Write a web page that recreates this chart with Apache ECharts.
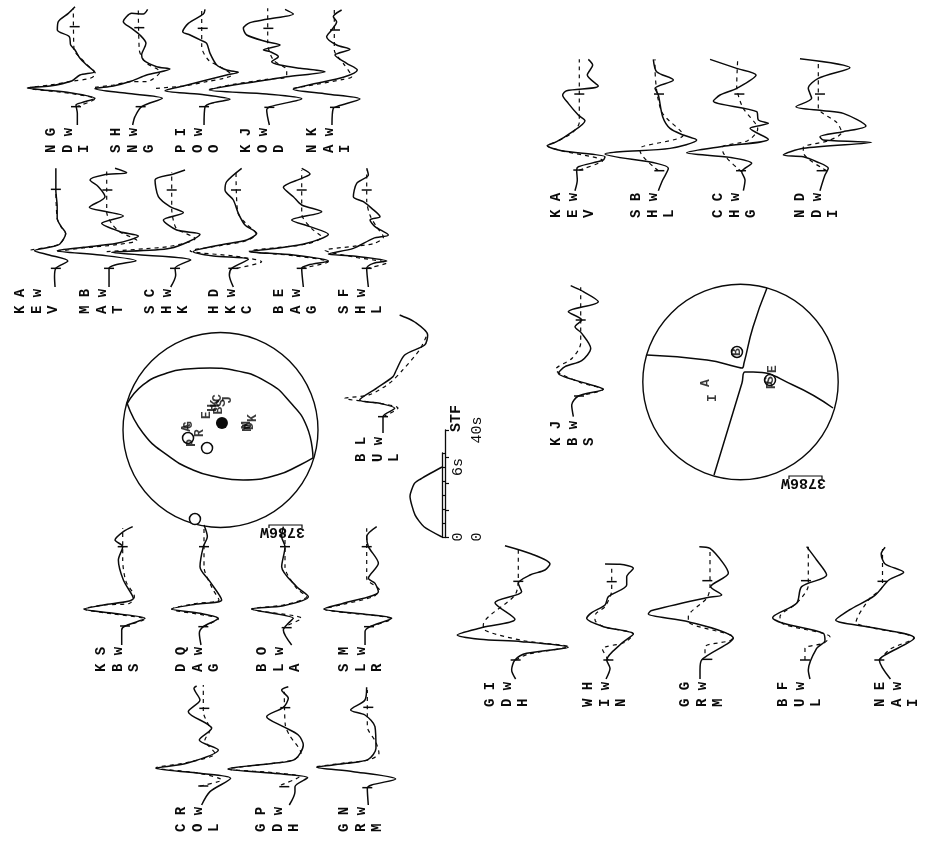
<!DOCTYPE html>
<html>
<head>
<meta charset="utf-8">
<style>html,body{margin:0;padding:0;background:#fff}#chart{width:938px;height:842px}</style>
<script src="https://cdn.jsdelivr.net/npm/echarts@6/dist/echarts.min.js"></script>
</head>
<body>
<div id="chart"></div>
<script>
// waveforms: [amplitude, time], one third of a pixel per unit
const ndiObs = [[10,0],[10,35],[6,60],[23,67],[63,80],[-12,97],[-92,105],[-140,111],[-72,117],[-7,132],[18,150],[61,160],[38,180],[18,200],[3,225],[-10,240],[-14,265],[-50,285],[-47,310],[-17,335],[3,355]];
const ndiSyn = [[6,55],[63,78],[-12,95],[-138,111],[-72,120],[-2,132],[48,140],[65,153],[40,180],[18,203],[0,225],[-2,350]];
const ndiTicks = [[6,55],[2,295]];
const sngObs = [[-17,0],[-10,25],[10,55],[72,80],[-35,95],[-130,109],[-75,117],[-20,132],[25,150],[95,168],[55,175],[15,195],[10,210],[23,245],[5,270],[-20,290],[-45,310],[-20,335],[15,333],[28,347]];
const sngSyn = [[-130,113],[-75,120],[-20,130],[25,130],[65,160],[25,185],[10,205],[3,225],[0,350]];
const sngTicks = [[7,55],[3,292]];
const pooObs = [[7,0],[10,55],[35,67],[85,77],[-5,92],[-110,103],[-55,117],[15,135],[75,150],[110,158],[75,165],[45,180],[25,215],[15,245],[0,253],[-35,270],[-57,280],[-40,305],[5,333],[10,347]];
const pooSyn = [[-137,110],[-55,117],[15,130],[65,140],[90,150],[55,175],[20,195],[0,235],[0,345]];
const pooTicks = [[7,55],[3,290]];
const kodObs = [[5,0],[-3,45],[7,55],[102,79],[-3,93],[-175,105],[-103,120],[-3,135],[57,145],[172,160],[97,170],[37,180],[12,190],[32,205],[7,220],[-13,225],[37,240],[-3,250],[-63,270],[-73,290],[-53,307],[-3,317],[77,333],[52,347]];
const kodSyn = [[-175,107],[-103,122],[-3,137],[57,145],[57,165],[17,195],[0,245],[0,350]];
const kodTicks = [[5,53],[2,290]];
const naiObs = [[-7,0],[-3,50],[12,57],[77,78],[-23,93],[-123,107],[-53,125],[27,143],[69,165],[37,185],[2,210],[47,227],[7,240],[-23,265],[-8,285],[7,310],[-3,325],[22,345]];
const naiSyn = [[-123,110],[-53,122],[27,137],[52,145],[27,185],[0,225],[0,345]];
const naiTicks = [[2,53],[2,285]];

const kevObs = [[-3,0],[-5,31],[0,56],[45,78],[-25,96],[-80,109],[-25,119],[15,129],[37,161],[20,181],[5,206],[5,241],[0,291],[0,356]];
const kevSyn = [[-95,111],[-25,120],[15,130],[37,160],[20,180],[5,206],[0,290]];
const kevTicks = [[0,56],[0,293]];
const matObs = [[7,0],[7,56],[25,66],[88,79],[-20,96],[-148,109],[-70,119],[30,131],[95,153],[40,166],[-15,191],[50,213],[0,226],[-52,239],[-5,271],[-25,301],[-50,321],[-10,336],[60,343],[25,356]];
const matSyn = [[-148,107],[-70,117],[30,127],[90,140],[40,165],[15,190],[0,225],[0,355]];
const matTicks = [[7,56],[2,291]];
const shkObs = [[-3,0],[12,36],[10,56],[57,81],[-180,104],[-5,116],[85,158],[15,171],[-25,201],[35,223],[-5,241],[-40,271],[-50,321],[5,339],[40,351]];
const shkSyn = [[-195,106],[-80,115],[-5,122],[70,145],[15,175],[5,200],[0,235],[0,345]];
const shkTicks = [[10,56],[0,291]];
const hkcObs = [[-8,0],[-20,36],[-13,56],[37,83],[-68,93],[-128,106],[-48,126],[32,141],[62,161],[27,186],[7,221],[-8,261],[-33,291],[-28,316],[17,356]];
const hkcSyn = [[2,56],[77,76],[0,92],[-138,108],[-48,124],[32,139],[60,160],[30,190],[5,225],[0,350]];
const hkcTicks = [[-8,56],[0,291]];
const bagObs = [[5,0],[0,56],[20,66],[80,78],[-25,96],[-157,106],[-75,116],[15,131],[80,158],[25,181],[-30,201],[60,226],[0,246],[-25,271],[-55,299],[0,326],[25,339],[0,356]];
const bagSyn = [[0,56],[80,76],[-25,94],[-157,108],[-75,118],[15,129],[60,150],[30,175],[0,220],[0,350]];
const bagTicks = [[0,56],[0,291]];
const shlObs = [[5,0],[0,56],[20,71],[60,78],[-40,93],[-115,99],[-40,116],[20,146],[65,156],[25,181],[10,201],[40,211],[15,236],[-10,256],[-40,271],[-30,311],[5,336],[0,356]];
const shlSyn = [[0,56],[60,72],[-40,90],[-125,110],[-40,122],[20,130],[50,150],[30,180],[10,215],[0,260],[0,350]];
const shlTicks = [[0,56],[0,291]];

const kev2Obs = [[-13,0],[-6,32],[-8,62],[-3,72],[72,92],[77,102],[-53,120],[-96,135],[-68,147],[-28,172],[17,210],[-3,227],[-33,262],[-50,287],[-38,300],[57,314],[24,347],[40,377],[27,394]];
const kev2Syn = [[0,62],[70,90],[-53,120],[-96,135],[-68,147],[-20,175],[0,205],[0,394]];
const kev2Ticks = [[-3,62],[0,290]];
const shl2Obs = [[10,0],[23,32],[40,67],[5,82],[-150,110],[-105,117],[45,127],[125,152],[85,167],[45,187],[23,222],[10,287],[0,307],[55,332],[5,357],[-5,394]];
const shl2Syn = [[10,60],[-45,120],[-45,127],[85,167],[20,237],[0,372],[0,394]];
const shl2Ticks = [[13,60],[12,290]];
const chgObs = [[17,0],[22,32],[12,57],[42,82],[-23,100],[-153,114],[-38,134],[92,154],[37,187],[92,202],[62,212],[57,237],[-73,269],[-53,287],[-3,307],[55,347],[-3,367],[-83,394]];
const chgSyn = [[12,57],[-45,120],[-45,132],[30,150],[60,185],[15,250],[-3,315],[0,394]];
const chgTicks = [[10,60],[5,290]];
const ndi2Obs = [[5,0],[20,47],[30,67],[-5,87],[-45,102],[-105,107],[-45,127],[160,145],[15,152],[5,162],[75,177],[143,194],[75,232],[15,240],[-67,252],[-20,277],[-30,307],[0,337],[95,369],[-55,396]];
const ndi2Syn = [[25,60],[-45,115],[-45,130],[30,150],[70,175],[55,205],[0,250],[0,390]];
const ndi2Ticks = [[10,60],[5,290]];

const bbsObs = [[-3,0],[-3,45],[7,57],[67,80],[-28,95],[-116,108],[-58,120],[32,140],[2,195],[-13,255],[0,295],[-23,315],[2,340],[30,355]];
const bbsSyn = [[7,57],[67,78],[-28,93],[-116,108],[-58,120],[20,125],[35,145],[10,190],[0,255],[0,350]];
const bbsTicks = [[7,57],[0,295]];
const dagObs = [[-9,0],[-14,35],[-2,55],[43,80],[-12,95],[-97,108],[-22,123],[53,135],[18,190],[-12,235],[-2,295],[10,325],[0,360]];
const dagSyn = [[-2,55],[43,78],[-97,108],[-22,125],[45,135],[25,170],[0,235],[0,360]];
const dagTicks = [[-2,55],[0,295]];
const blaObs = [[20,0],[-5,45],[10,65],[25,80],[-100,108],[-5,118],[70,145],[35,175],[-10,235],[0,295],[-10,325],[-5,355]];
const blaSyn = [[10,60],[50,80],[-100,108],[-5,120],[65,145],[35,170],[0,235],[0,350]];
const blaTicks = [[5,52],[0,295]];
const slrObs = [[-5,0],[-5,40],[10,55],[75,80],[-10,93],[-128,108],[-70,125],[35,160],[25,185],[5,200],[35,245],[5,295],[0,325],[30,355]];
const slrSyn = [[10,55],[75,78],[-128,108],[-70,122],[20,145],[38,165],[0,200],[0,350]];
const slrTicks = [[7,55],[0,295]];

const colObs = [[-5,0],[20,40],[82,80],[-10,95],[-142,110],[-50,125],[45,165],[-12,195],[25,230],[-45,280],[-10,315],[-28,350],[-20,357]];
const colSyn = [[-10,57],[55,75],[-10,95],[-142,112],[-50,127],[35,155],[5,195],[20,225],[0,280],[0,360]];
const colTicks = [[0,57],[3,290]];
const gdhObs = [[15,0],[32,40],[32,55],[70,82],[-33,95],[-169,108],[-33,125],[32,137],[57,180],[42,210],[-3,235],[-53,265],[-3,293],[12,320],[-8,345],[12,355]];
const gdhSyn = [[-10,60],[45,85],[-33,97],[-169,108],[-33,125],[25,135],[50,155],[15,210],[3,240],[0,340]];
const gdhTicks = [[0,55],[3,292]];
const grmObs = [[3,0],[0,50],[13,60],[85,78],[-42,100],[-152,113],[-62,125],[3,137],[26,170],[23,235],[-7,270],[-50,285],[-7,315],[-2,353]];
const grmSyn = [[-152,115],[-62,127],[3,135],[35,155],[25,190],[0,235],[0,345]];
const grmTicks = [[0,52],[3,293]];

const gdh2Obs = [[-8,0],[-20,27],[-10,57],[25,77],[150,95],[10,112],[-115,119],[-183,132],[-105,155],[-10,179],[-70,229],[10,262],[0,287],[35,312],[80,327],[95,345],[40,375],[-40,400]];
const gdh2Syn = [[-8,57],[30,75],[150,97],[15,115],[-105,152],[-105,162],[-10,252],[0,300],[0,400]];
const gdh2Ticks = [[-8,57],[0,293]];
const winObs = [[-17,0],[-5,32],[-15,57],[30,107],[65,135],[-25,157],[-75,182],[-60,199],[-20,222],[-10,247],[45,282],[45,307],[65,332],[25,344],[-20,345]];
const winSyn = [[-10,57],[-28,90],[40,110],[65,135],[-25,157],[-50,177],[-48,195],[-20,217],[0,267],[0,340]];
const winTicks = [[-10,57],[0,292]];
const grm2Obs = [[-33,0],[-33,27],[-28,57],[67,122],[-68,172],[-188,195],[-180,205],[-13,244],[32,252],[-1,277],[52,317],[37,347],[-3,392],[-35,397]];
const grm2Syn = [[-18,77],[-18,97],[57,115],[67,125],[-68,172],[-68,187],[-13,242],[-3,277],[-3,387]];
const grm2Ticks = [[-11,59],[-11,295]];
const bulObs = [[5,0],[0,27],[25,92],[50,115],[45,137],[-75,167],[-107,184],[-35,227],[-20,277],[55,312],[25,357],[-5,397]];
const bulSyn = [[-10,57],[-10,92],[45,107],[65,127],[45,137],[-75,165],[-85,187],[-35,227],[0,282],[0,397]];
const bulTicks = [[-10,57],[-7,295]];
const nai2Obs = [[30,0],[-12,57],[9,72],[120,123],[-51,156],[-177,177],[-126,207],[-30,250],[24,297],[80,320],[10,345],[-5,375],[10,395]];
const nai2Syn = [[-12,57],[30,90],[120,123],[-51,156],[-100,170],[-50,240],[0,280],[0,390]];
const nai2Ticks = [[-12,57],[0,293]];

const bulTopObs = [[0,0],[0,49],[35,74],[-10,89],[-70,99],[-20,134],[30,169],[40,189],[65,234],[125,264],[134,294],[95,333],[50,354]];
const bulTopSyn = [[0,49],[45,75],[-10,89],[-115,104],[-40,115],[20,150],[60,190],[110,250],[130,290]];
const bulTopTicks = [[0,49]];
const bbs2Obs = [[-22,4],[-27,39],[-7,66],[68,86],[-2,109],[-67,134],[-47,154],[3,172],[30,209],[3,254],[-17,274],[3,294],[-37,319],[53,349],[8,379],[-30,397]];
const bbs2Syn = [[-7,66],[68,86],[-2,107],[-75,146],[-25,180],[0,225],[0,395]];
const bbs2Ticks = [[-5,66],[0,294]];

// source time function, seconds and relative amplitude
const stfCurve = [[0,0],[18,0.88],[27,1.9],[32,3.5],[28,4.54],[23,4.89],[0,6]];

// focal spheres, unit radius
const ballOneUpper = [[-0.959,0.267],[-0.795,0.462],[-0.549,0.585],[-0.344,0.626],[-0.108,0.636],[0.128,0.615],[0.477,0.492],[0.713,0.287],[0.887,0.031],[0.949,-0.287]];
const ballOneLower = [[-0.959,0.277],[-0.795,-0.031],[-0.549,-0.256],[-0.282,-0.41],[-0.036,-0.482],[0.231,-0.513],[0.579,-0.462],[0.815,-0.359],[0.949,-0.287]];
const ballOneFilled = [[0.015,0.072]];
const ballOneOpen = [[-0.138,-0.185],[-0.333,-0.082],[-0.262,-0.913]];
const ballOneLabels = [[-0.138,0.154,'E'],[-0.026,0.328,'C'],[-0.077,0.226,'H'],[-0.05,0.27,'K'],[0.015,0.277,'S'],[0.077,0.308,'J'],[-0.02,0.2,'B'],[0.282,0.021,'N'],[0.333,0.123,'K'],[0.272,0.051,'M'],[0.3,0.04,'D'],[-0.292,-0.133,'P'],[-0.21,-0.031,'R'],[-0.344,0.021,'A'],[-0.33,0.05,'G']];
const ballTwoFirst = [[0.271,0.962],[0.128,0.563],[0.036,0.194],[0.015,0.143],[-0.036,0.154],[-0.343,0.225],[-0.957,0.276]];
const ballTwoSecond = [[0.947,-0.266],[0.537,-0.031],[0.128,0.102],[0.046,0.102],[0.015,-0.01],[-0.271,-0.952]];
const ballTwoOpen = [[-0.036,0.307],[0.302,0.02]];
const ballTwoLabels = [[-0.036,0.307,'B'],[0.333,0.133,'E'],[0.322,-0.031,'P'],[0.302,0.02,'S'],[-0.353,-0.01,'A'],[-0.281,-0.164,'I']];

const UNIT = 3;
const HALF = 210;
const INK = '#0a0a0a';
const MONO = '"Liberation Mono", "DejaVu Sans Mono", monospace';

// label, label left, label bottom, trace x, trace foot y, observed, synthetic, window ticks
const panels = [
  ['N G\nD w\nI', 43, 153, 74, 125, ndiObs, ndiSyn, ndiTicks],
  ['S H\nN w\nG', 108, 153, 138.3, 125, sngObs, sngSyn, sngTicks],
  ['P I\nO w\nO', 173, 153, 201.7, 125, pooObs, pooSyn, pooTicks],
  ['K J\nO w\nD', 238, 153, 267.7, 125, kodObs, kodSyn, kodTicks],
  ['N K\nA w\nI', 304, 153, 334.3, 125, naiObs, naiSyn, naiTicks],
  ['K A\nE w\nV', 12, 314, 41.7, 287, kevObs, kevSyn, kevTicks],
  ['M B\nA w\nT', 77, 314, 106.7, 287, matObs, matSyn, matTicks],
  ['S C\nH w\nK', 142, 314, 171.7, 287, shkObs, shkSyn, shkTicks],
  ['H D\nK w\nC', 206, 314, 236, 287, hkcObs, hkcSyn, hkcTicks],
  ['B E\nA w\nG', 271, 314, 301.7, 287, bagObs, bagSyn, bagTicks],
  ['S F\nH w\nL', 336, 314, 366.7, 287, shlObs, shlSyn, shlTicks],
  ['K A\nE w\nV', 548, 218, 579.3, 190.7, kev2Obs, kev2Syn, kev2Ticks],
  ['S B\nH w\nL', 628, 218, 655, 190.7, shl2Obs, shl2Syn, shl2Ticks],
  ['C C\nH w\nG', 710, 218, 737.7, 190.7, chgObs, chgSyn, chgTicks],
  ['N D\nD w\nI', 792, 218, 818.3, 190.7, ndi2Obs, ndi2Syn, ndi2Ticks],
  ['K S\nB w\nS', 93, 672, 122.7, 645, bbsObs, bbsSyn, bbsTicks],
  ['D Q\nA w\nG', 173, 672, 204, 645, dagObs, dagSyn, dagTicks],
  ['B O\nL w\nA', 254, 672, 285, 645, blaObs, blaSyn, blaTicks],
  ['S M\nL w\nR', 336, 672, 366.7, 645, slrObs, slrSyn, slrTicks],
  ['C R\nO w\nL', 173, 832, 203.3, 805, colObs, colSyn, colTicks],
  ['G P\nD w\nH', 253, 832, 284.3, 805, gdhObs, gdhSyn, gdhTicks],
  ['G N\nR w\nM', 336, 832, 367.3, 805, grmObs, grmSyn, grmTicks],
  ['G I\nD w\nH', 482, 707, 518.3, 679, gdh2Obs, gdh2Syn, gdh2Ticks],
  ['W H\nI w\nN', 580, 707, 611.7, 679, winObs, winSyn, winTicks],
  ['G G\nR w\nM', 677, 707, 711, 679, grm2Obs, grm2Syn, grm2Ticks],
  ['B F\nU w\nL', 775, 707, 808.3, 679, bulObs, bulSyn, bulTicks],
  ['N E\nA w\nI', 872, 707, 897, 679, nai2Obs, nai2Syn, nai2Ticks],
  ['B L\nU w\nL', 353, 462, 383, 433, bulTopObs, bulTopSyn, bulTopTicks],
  ['K J\nB w\nS', 548, 446, 580.7, 418, bbs2Obs, bbs2Syn, bbs2Ticks]
];

const chart = echarts.init(document.getElementById('chart'), null, { renderer: 'canvas' });
const grid = [], xAxis = [], yAxis = [], series = [], graphic = [];

const hiddenAxis = (min, max) => ({ type: 'value', min, max, show: false, scale: false });

const addGrid = (left, top, width, height, xa, ya) => {
  grid.push({ left, top, width, height });
  xAxis.push({ ...xa, gridIndex: grid.length - 1 });
  yAxis.push({ ...ya, gridIndex: grid.length - 1 });
  return grid.length - 1;
};

const addText = (text, x, y, rotation, size) => {
  graphic.push({
    type: 'text', x, y, rotation, silent: true,
    style: { text, fill: INK, font: 'bold ' + (size || 14) + 'px ' + MONO, lineHeight: 16.7, textAlign: 'left', textVerticalAlign: 'top' }
  });
};

const lineSeries = (idx, data, dashed, smooth) => ({
  type: 'line', xAxisIndex: idx, yAxisIndex: idx, data, symbol: 'none', clip: false, silent: true,
  smooth: smooth === undefined ? 0.28 : smooth,
  lineStyle: { color: INK, width: dashed ? 1.2 : 1.5, type: dashed ? [4, 4] : 'solid' }
});

panels.forEach(([label, lx, ly, px, py, obs, syn, ticks]) => {
  const tMax = Math.max(...obs.concat(syn).map((p) => p[1]));
  const idx = addGrid(px - HALF / UNIT, py - tMax / UNIT, (2 * HALF) / UNIT, tMax / UNIT, hiddenAxis(-HALF, HALF), hiddenAxis(0, tMax));
  series.push(lineSeries(idx, syn, true));
  series.push(lineSeries(idx, obs, false));
  series.push({
    type: 'scatter', xAxisIndex: idx, yAxisIndex: idx, data: ticks, clip: false, silent: true,
    symbol: 'rect', symbolSize: [10, 1.5], itemStyle: { color: INK, opacity: 1 }
  });
  addText(label, lx, ly, Math.PI / 2);
});

const addBall = (cx, cy, r, arcs, open, labels, filled) => {
  const idx = addGrid(cx - r, cy - r, 2 * r, 2 * r, hiddenAxis(-1, 1), hiddenAxis(-1, 1));
  series.push({
    type: 'scatter', xAxisIndex: idx, yAxisIndex: idx, data: [[0, 0]], symbol: 'circle', symbolSize: 2 * r, silent: true, clip: false,
    itemStyle: { color: 'transparent', borderColor: INK, borderWidth: 1.4, opacity: 1 }
  });
  arcs.forEach((arc) => series.push(lineSeries(idx, arc, false, 0.5)));
  series.push({
    type: 'scatter', xAxisIndex: idx, yAxisIndex: idx, data: open, symbolSize: 11, silent: true, clip: false,
    itemStyle: { color: '#fff', opacity: 1, borderColor: INK, borderWidth: 1.5 }
  });
  series.push({
    type: 'scatter', xAxisIndex: idx, yAxisIndex: idx, data: labels, symbolSize: 0, silent: true, clip: false, z: 5,
    label: { show: true, position: 'inside', rotate: 90, formatter: (p) => p.data[2], color: INK, fontSize: 13, fontWeight: 'bold', fontFamily: MONO }
  });
  if (filled) {
    series.push({
      type: 'scatter', xAxisIndex: idx, yAxisIndex: idx, data: filled, symbolSize: 12, silent: true, clip: false,
      itemStyle: { color: INK, opacity: 1 }
    });
  }
};

addBall(220.5, 430, 97.5, [ballOneUpper, ballOneLower], ballOneOpen, ballOneLabels, ballOneFilled);
addBall(740.5, 382, 97.7, [ballTwoFirst, ballTwoSecond], ballTwoOpen, ballTwoLabels);

// scale bars under the spheres, label printed upside down
[[269, 525, 305, 540], [789, 476, 826, 491]].forEach(([bx, by, tx, ty]) => {
  graphic.push({
    type: 'polyline', silent: true,
    shape: { points: [[bx, by + 3], [bx, by], [bx + 33, by], [bx + 33, by + 3]] },
    style: { stroke: INK, lineWidth: 1.2, fill: 'none' }
  });
  addText('3786W', tx, ty, Math.PI, 15);
});

// source time function with its two time axes
const stfTicks = { show: true, length: 4, lineStyle: { color: INK, width: 1.2 } };
const stfLine = { show: true, lineStyle: { color: INK, width: 1.3 } };
const stfIdx = addGrid(402, 453, 40, 84,
  { type: 'value', min: 0, max: 40, inverse: true, show: false },
  {
    type: 'value', position: 'right', min: 0, max: 7.2, interval: 1.2,
    axisLine: stfLine, axisTick: stfTicks, splitLine: { show: false },
    axisLabel: { rotate: 90, margin: 9, color: INK, fontSize: 15, fontFamily: MONO, formatter: (v) => (v === 0 ? '0' : v === 6 ? '6s' : '') }
  });
series.push({ ...lineSeries(stfIdx, stfCurve, false, 0.2) });
addGrid(445, 430, 20, 107,
  { type: 'value', min: 0, max: 1, show: false },
  {
    type: 'value', position: 'right', min: 0, max: 40, interval: 10,
    axisLine: stfLine, axisTick: stfTicks, splitLine: { show: false },
    axisLabel: { rotate: 90, margin: 5, color: INK, fontSize: 15, fontFamily: MONO, formatter: (v) => (v === 0 ? '0' : v === 40 ? '40s' : '') }
  });
addText('STF', 448, 432, Math.PI / 2, 15);

chart.setOption({ animation: false, backgroundColor: '#fff', grid, xAxis, yAxis, series, graphic });
window.addEventListener('resize', () => chart.resize());
</script>
</body>
</html>
